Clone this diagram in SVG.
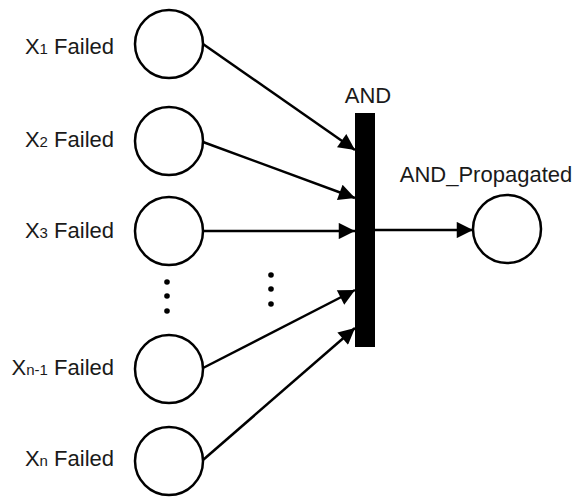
<svg xmlns="http://www.w3.org/2000/svg" width="579" height="497" viewBox="0 0 579 497">
<style>
.node{fill:#fff;stroke:#000;stroke-width:2.5}
.lbl{font-family:"Liberation Sans",Arial,sans-serif;font-size:22px;fill:#1a1a1a}
.sub{font-size:15px}
.edge{stroke:#000;stroke-width:2.5;fill:none;marker-end:url(#arr)}
.dot{fill:#000}
</style>
<defs>
<marker id="arr" viewBox="0 0 10 10" refX="10" refY="5" markerWidth="8" markerHeight="6.5" markerUnits="strokeWidth" orient="auto">
<path d="M0,0 L10,5 L0,10 z" fill="#000"/>
</marker>
</defs>
<rect width="579" height="497" fill="#fff"/>
<g id="x1"><circle class="node" cx="169" cy="44" r="34"/><text class="lbl" x="114" y="54" text-anchor="end">X<tspan class="sub">1</tspan> Failed</text></g>
<g id="x2"><circle class="node" cx="169" cy="141" r="34"/><text class="lbl" x="114" y="147" text-anchor="end">X<tspan class="sub">2</tspan> Failed</text></g>
<g id="x3"><circle class="node" cx="169" cy="231" r="34"/><text class="lbl" x="114" y="238" text-anchor="end">X<tspan class="sub">3</tspan> Failed</text></g>
<g id="xn1"><circle class="node" cx="169" cy="369" r="34"/><text class="lbl" x="114" y="375" text-anchor="end">X<tspan class="sub">n-1</tspan> Failed</text></g>
<g id="xn"><circle class="node" cx="169" cy="461" r="34"/><text class="lbl" x="114" y="466" text-anchor="end">X<tspan class="sub">n</tspan> Failed</text></g>
<g id="and"><rect x="355" y="113" width="20" height="234" fill="#000"/><text class="lbl" x="368" y="103" text-anchor="middle">AND</text></g>
<g id="out"><circle class="node" cx="507" cy="229" r="34"/><text class="lbl" x="486" y="182" text-anchor="middle">AND_Propagated</text></g>
<g id="dots">
<circle class="dot" cx="167" cy="282" r="2.8"/><circle class="dot" cx="167" cy="296" r="2.8"/><circle class="dot" cx="167" cy="311" r="2.8"/>
<circle class="dot" cx="271" cy="275" r="2.8"/><circle class="dot" cx="271" cy="289" r="2.8"/><circle class="dot" cx="271" cy="304" r="2.8"/>
</g>
<g id="connectors">
<line class="edge" x1="203" y1="44" x2="355" y2="150"/>
<line class="edge" x1="203" y1="142" x2="355" y2="198"/>
<line class="edge" x1="203" y1="231" x2="355" y2="231"/>
<line class="edge" x1="203" y1="368" x2="355" y2="290"/>
<line class="edge" x1="203" y1="460" x2="355" y2="328"/>
<line class="edge" x1="375" y1="230" x2="473" y2="230"/>
</g>
</svg>
